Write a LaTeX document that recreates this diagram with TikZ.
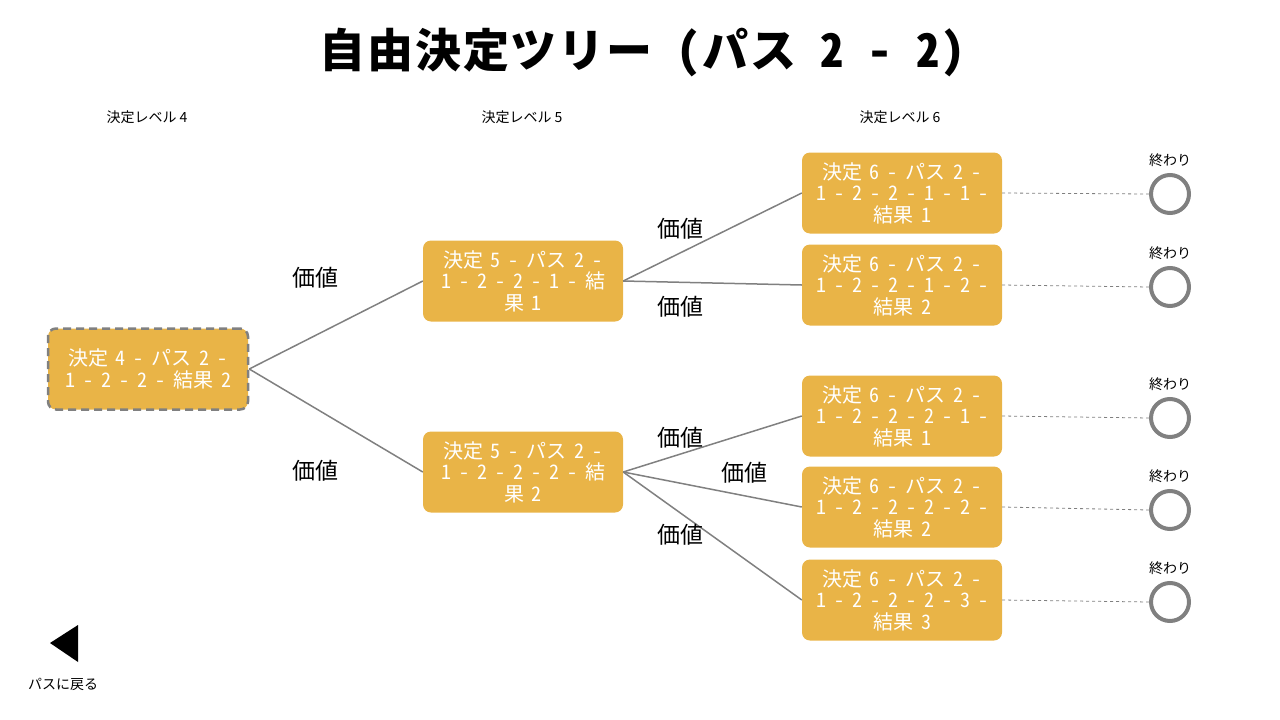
\documentclass[tikz,border=0pt]{standalone}
\usepackage{fontspec}
\setmainfont{Noto Sans CJK JP}
\newfontfamily\boxfont{Noto Sans CJK JP}[RawFeature=+hwid, WordSpace=0.8]
\newfontfamily\titlefont{Noto Sans CJK JP}[RawFeature=+hwid, LetterSpace=4]
\usetikzlibrary{positioning}
\definecolor{boxfill}{HTML}{E9B447}
\definecolor{linegray}{HTML}{808080}

\begin{document}
\begin{tikzpicture}
 [
  x=1pt, y=-1pt,
  box/.style={rectangle, rounded corners=8pt, fill=boxfill, text=white, minimum width=200pt, minimum height=81pt, inner sep=0pt, align=center, font=\boxfont\fontsize{20}{21.5}\selectfont},
  val/.style={font=\fontsize{23}{25}\selectfont},
  lvl/.style={font=\fontsize{14}{16}\selectfont},
  endpt/.style={circle, draw=linegray, line width=4pt, minimum size=38pt, inner sep=0pt},
  edge/.style={draw=linegray, line width=1.5pt},
  link/.style={draw=linegray, dashed, line width=0.8pt},
 ]
  \useasboundingbox (0,0) rectangle (1280,720);

  \node (title) at (642,53) {\titlefont\fontsize{46}{50}\selectfont\bfseries 自由決定ツリー (パス 2 - 2)};

  \node [lvl] (lv4) at (147,117) {決定レベル 4};
  \node [lvl] (lv5) at (522,117) {決定レベル 5};
  \node [lvl] (lv6) at (900,117) {決定レベル 6};

  % decision boxes
  \node [box, draw=linegray, dash pattern=on 8pt off 5pt, line width=2.5pt] (d4) at (148,369) {決定 4 - パス 2 -\\1 - 2 - 2 - 結果 2};
  \node [box] (d5a) at (523,281) {決定 5 - パス 2 -\\1 - 2 - 2 - 1 - 結\\果 1};
  \node [box] (d5b) at (523,472) {決定 5 - パス 2 -\\1 - 2 - 2 - 2 - 結\\果 2};
  \node [box] (d6a) at (902,193) {決定 6 - パス 2 -\\1 - 2 - 2 - 1 - 1 -\\結果 1};
  \node [box] (d6b) at (902,285) {決定 6 - パス 2 -\\1 - 2 - 2 - 1 - 2 -\\結果 2};
  \node [box] (d6c) at (902,416) {決定 6 - パス 2 -\\1 - 2 - 2 - 2 - 1 -\\結果 1};
  \node [box] (d6d) at (902,507) {決定 6 - パス 2 -\\1 - 2 - 2 - 2 - 2 -\\結果 2};
  \node [box] (d6e) at (902,600) {決定 6 - パス 2 -\\1 - 2 - 2 - 2 - 3 -\\結果 3};

  % end points
  \foreach \n/\y in {a/194, b/287, c/418, d/510, e/602} {
    \node [endpt] (e\n) at (1170,\y) {};
    \node [lvl, above=3pt of e\n] (t\n) {終わり};
    \draw [link] (d6\n.east) -- (e\n.west);
  }

  \draw [edge] (d4.east) -- (d5a.west);
  \draw [edge] (d4.east) -- (d5b.west);
  \draw [edge] (d5a.east) -- (d6a.west);
  \draw [edge] (d5a.east) -- (d6b.west);
  \draw [edge] (d5b.east) -- (d6c.west);
  \draw [edge] (d5b.east) -- (d6d.west);
  \draw [edge] (d5b.east) -- (d6e.west);

  \node [val] (v1) at (315,278) {価値};
  \node [val] (v2) at (315,471) {価値};
  \node [val] (v3) at (680,229) {価値};
  \node [val] (v4) at (680,307) {価値};
  \node [val] (v5) at (680,438) {価値};
  \node [val] (v6) at (744,473) {価値};
  \node [val] (v7) at (680,535) {価値};

  % back button
  \fill (50,643) -- (78,625) -- (78,662) -- cycle;
  \node [lvl] (back) at (63,684) {パスに戻る};
\end{tikzpicture}
\end{document}
